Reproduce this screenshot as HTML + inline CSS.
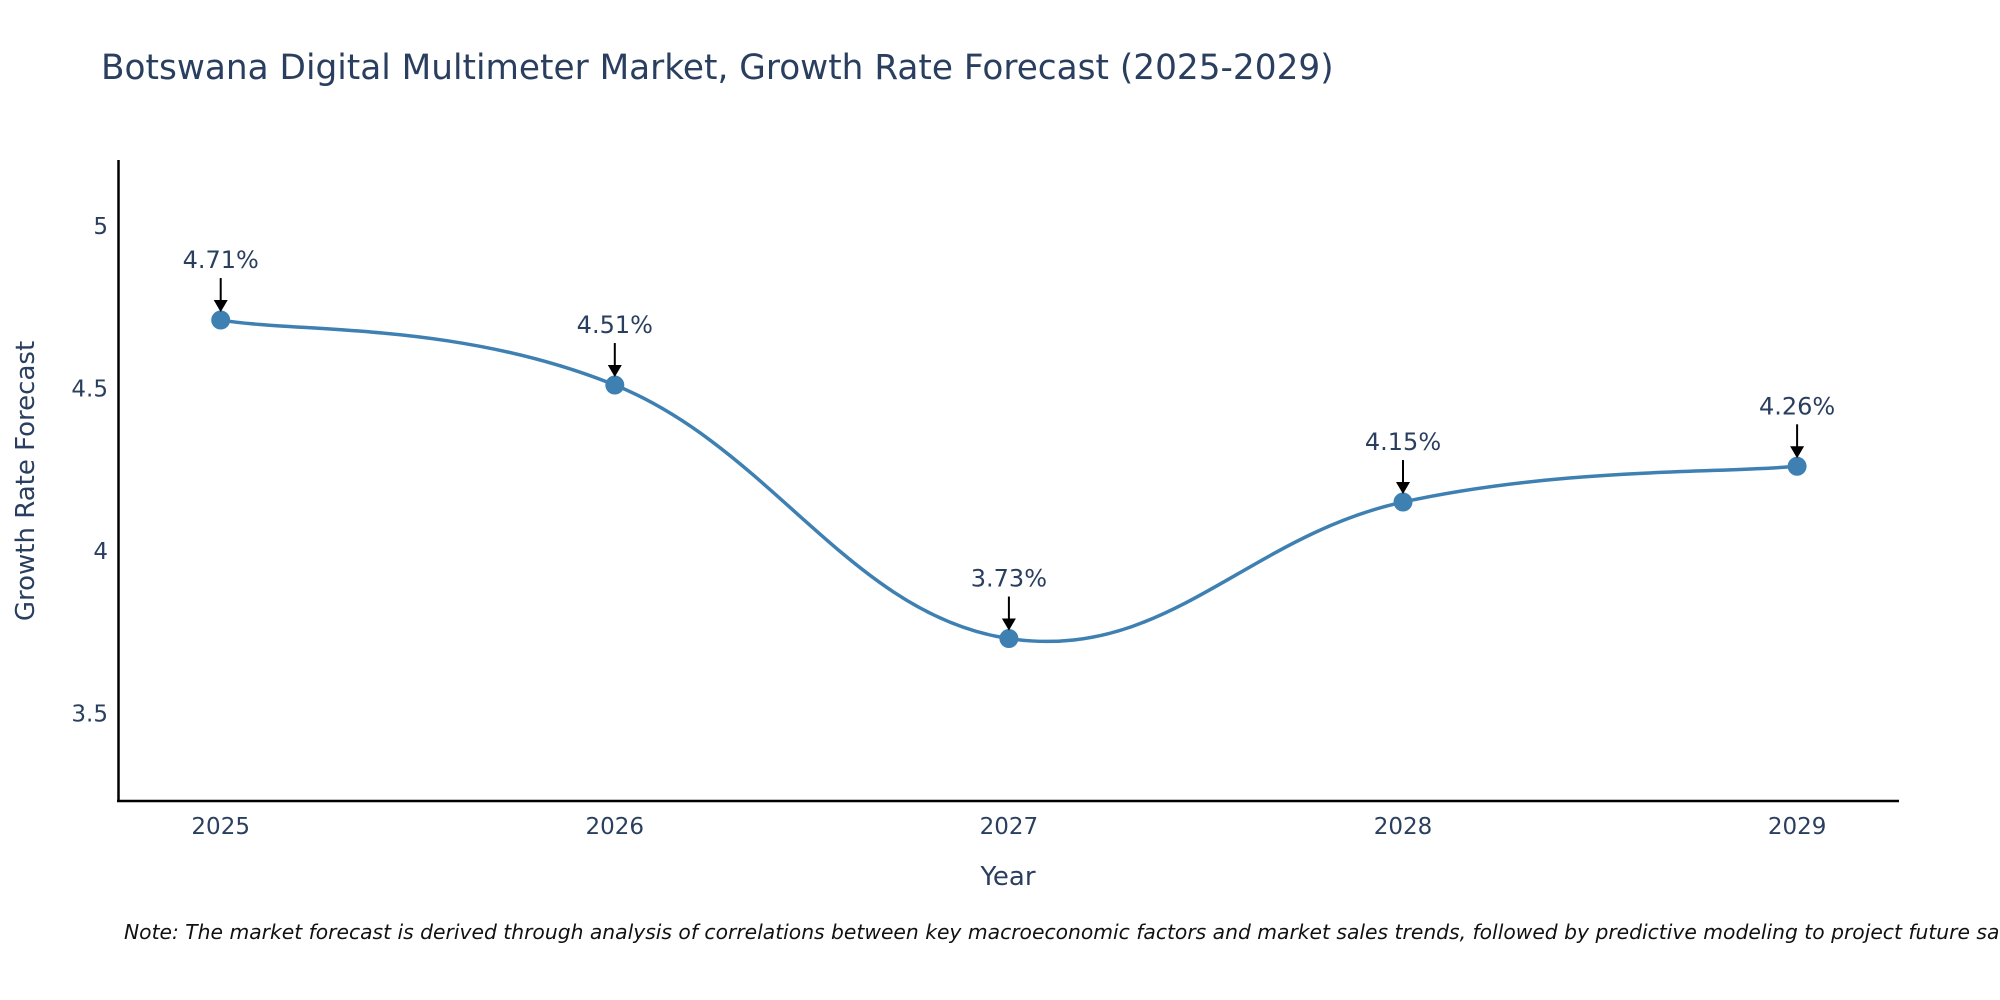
<!DOCTYPE html>
<html><head><meta charset="utf-8"><style>
body{margin:0;background:#fff;}
svg{display:block;font-family:"DejaVu Sans","Liberation Sans",sans-serif;}
</style></head><body>
<svg id="chart" width="2000" height="1000" viewBox="0 0 2000 1000">
<text x="101" y="79" font-size="34.3" fill="#2a3f5f">Botswana Digital Multimeter Market, Growth Rate Forecast (2025-2029)</text>
<g id="yticks"></g><g id="xticks"></g>
<line x1="118.5" y1="160" x2="118.5" y2="802" stroke="#000" stroke-width="2.5"/>
<line x1="117" y1="801" x2="1899" y2="801" stroke="#000" stroke-width="2.5"/>
<path id="line" fill="none" stroke="#3f80b2" stroke-width="3.5"/>
<g id="marks"></g>
<text x="1008" y="885" font-size="26" fill="#2a3f5f" text-anchor="middle">Year</text>
<text transform="translate(34,481) rotate(-90)" font-size="26" fill="#2a3f5f" text-anchor="middle">Growth Rate Forecast</text>
<text x="124" y="939" font-size="20.3" font-style="italic" fill="#111">Note: The market forecast is derived through analysis of correlations between key macroeconomic factors and market sales trends, followed by predictive modeling to project future sales.</text>
</svg>
<script>
const years=[2025,2026,2027,2028,2029];
const values=[4.71,4.51,3.73,4.15,4.26];
const yTickVals=[3.5,4,4.5,5];
const yTickLabels=["3.5","4","4.5","5"];
const NS="http://www.w3.org/2000/svg";
function xs(y){return 220.7+(y-2025)*394.1;}
function ys(v){return 225.8+(5-v)*325;}
function mk(tag,attrs,parent){const e=document.createElementNS(NS,tag);for(const k in attrs)e.setAttribute(k,attrs[k]);parent.appendChild(e);return e;}
const yt=document.getElementById('yticks');
yTickVals.forEach((v,i)=>{const t=mk('text',{x:108,y:ys(v)+8,'font-size':23,fill:'#2a3f5f','text-anchor':'end'},yt);t.textContent=yTickLabels[i];

});
const xt=document.getElementById('xticks');
years.forEach(y=>{const t=mk('text',{x:xs(y),y:834,'font-size':23,fill:'#2a3f5f','text-anchor':'middle'},xt);t.textContent=String(y);

});
const P=years.map((y,i)=>[xs(y),ys(values[i])]);
let d=`M${P[0][0]},${P[0][1]}`;
for(let i=0;i<P.length-1;i++){const p0=P[Math.max(0,i-1)],p1=P[i],p2=P[i+1],p3=P[Math.min(P.length-1,i+2)];
const k=0.2;
const c1=[p1[0]+(p2[0]-p0[0])*k,p1[1]+(p2[1]-p0[1])*k];
const c2=[p2[0]-(p3[0]-p1[0])*k,p2[1]-(p3[1]-p1[1])*k];
d+=` C${c1[0]},${c1[1]} ${c2[0]},${c2[1]} ${p2[0]},${p2[1]}`;}
document.getElementById('line').setAttribute('d',d);
const g=document.getElementById('marks');
P.forEach((p,i)=>{
const c=mk('circle',{cx:p[0],cy:p[1],r:9.5,fill:'#3f80b2'},g);


const l=mk('line',{x1:p[0],y1:p[1]-42,x2:p[0],y2:p[1]-18,stroke:'#000','stroke-width':2},g);


const h=mk('polygon',{points:`${p[0]-7},${p[1]-20} ${p[0]+7},${p[1]-20} ${p[0]},${p[1]-8}`,fill:'#000'},g);


const t=mk('text',{x:p[0],y:p[1]-52,'font-size':24,fill:'#2a3f5f','text-anchor':'middle'},g);
t.textContent=values[i].toFixed(2)+'%';


});
</script>
</body></html>
